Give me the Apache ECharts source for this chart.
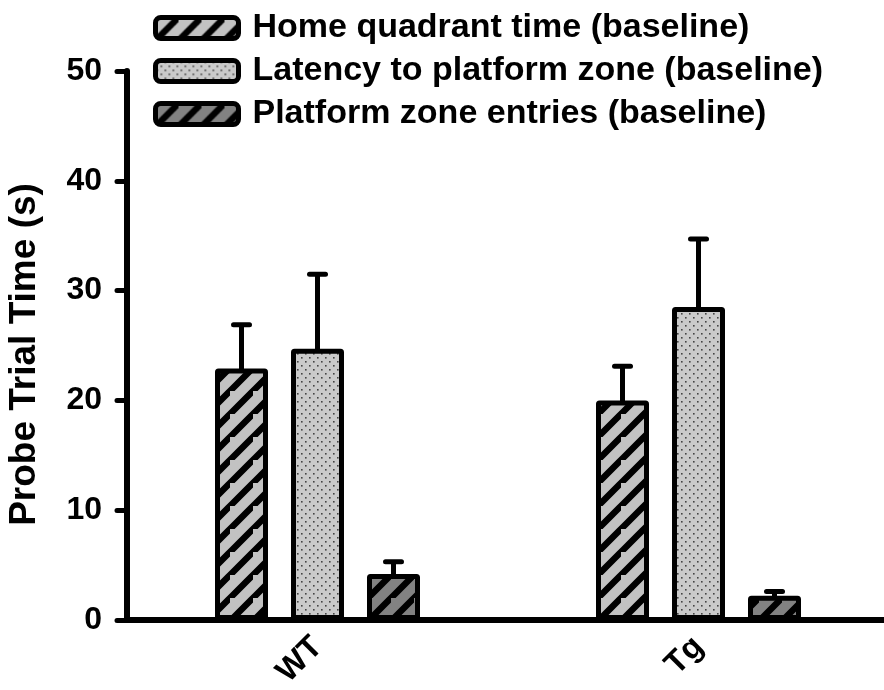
<!DOCTYPE html>
<html>
<head>
<meta charset="utf-8">
<script src="https://cdn.jsdelivr.net/npm/echarts@6/dist/echarts.min.js"></script>
<style>
  html, body { margin: 0; padding: 0; background: #fff; }
  #main { width: 884px; height: 690px; }
</style>
</head>
<body>
<div id="main"></div>
<script>
  var categories = ['WT', 'Tg'];
  var seriesNames = ['Home quadrant time (baseline)', 'Latency to platform zone (baseline)', 'Platform zone entries (baseline)'];
  var homeQuadrant = [22.9, 20.0];
  var homeQuadrantErr = [4.0, 3.1];
  var latency = [24.7, 28.5];
  var latencyErr = [6.8, 6.2];
  var entries = [4.2, 2.2];
  var entriesErr = [1.1, 0.4];
  var yTicks = [0, 10, 20, 30, 40, 50];

  var font = 'Liberation Sans, Arial, sans-serif';

  // fill patterns
  function hatch(bg) {
    var s = 23;
    var c = document.createElement('canvas');
    c.width = s; c.height = s;
    var g = c.getContext('2d');
    g.fillStyle = bg;
    g.fillRect(0, 0, s, s);
    g.strokeStyle = '#000';
    g.lineWidth = 6.5;
    g.beginPath();
    g.moveTo(-s, s * 2); g.lineTo(s * 2, -s);
    g.moveTo(-s * 2, s); g.lineTo(s, -s * 2);
    g.moveTo(0, s * 2); g.lineTo(s * 2, 0);
    g.stroke();
    return { image: c, repeat: 'repeat' };
  }
  function dots() {
    var s = 8;
    var c = document.createElement('canvas');
    c.width = s; c.height = s;
    var g = c.getContext('2d');
    g.fillStyle = '#cacaca';
    g.fillRect(0, 0, s, s);
    g.fillStyle = '#444';
    g.fillRect(1, 1, 1.6, 1.6);
    g.fillRect(5, 5, 1.6, 1.6);
    return { image: c, repeat: 'repeat' };
  }

  var fills = [hatch('#c2c2c2'), dots(), hatch('#828282')];
  var means = [homeQuadrant, latency, entries];
  var errs = [homeQuadrantErr, latencyErr, entriesErr];

  var barW = 53, step = 76;
  var barGap = step / barW - 1;
  var offsets = [-step, 0, step];

  var series = [];
  means.forEach(function (m, k) {
    series.push({
      name: seriesNames[k],
      type: 'bar',
      barWidth: barW,
      barGap: (barGap * 100) + '%',
      data: m,
      z: 3,
      itemStyle: { color: fills[k], borderColor: '#000', borderWidth: 5, borderRadius: 1 }
    });
  });
  means.forEach(function (m, k) {
    series.push({
      type: 'custom',
      z: 4,
      data: m.map(function (v, i) { return [i, v, errs[k][i]]; }),
      encode: { x: 0, y: 1 },
      renderItem: function (params, api) {
        var i = api.value(0), v = api.value(1), e = api.value(2);
        var p0 = api.coord([i, v]);
        var p1 = api.coord([i, v + e]);
        var cx = p0[0] + offsets[k];
        return {
          type: 'group',
          children: [
            { type: 'line', shape: { x1: cx, y1: p0[1] + 2, x2: cx, y2: p1[1] }, style: { stroke: '#000', lineWidth: 5 } },
            { type: 'line', shape: { x1: cx - 8, y1: p1[1], x2: cx + 8, y2: p1[1] }, style: { stroke: '#000', lineWidth: 5, lineCap: 'round' } }
          ]
        };
      }
    });
  });

  var legendTops = [11, 54, 97];
  var legends = seriesNames.map(function (n, k) {
    return {
      data: [n],
      left: 153,
      top: legendTops[k],
      padding: 0,
      itemWidth: 83,
      itemHeight: 21,
      selectedMode: false,
      itemStyle: { borderColor: '#000', borderWidth: 5 },
      textStyle: { fontFamily: font, fontWeight: 'bold', fontSize: 34, color: '#000', padding: [0, 0, 0, 9] }
    };
  });

  var myChart = echarts.init(document.getElementById('main'));
  var option = {
    animation: false,
    backgroundColor: '#fff',
    legend: legends,
    grid: { left: 127, top: 71, width: 762, height: 549, outerBoundsMode: 'none' },
    xAxis: {
      type: 'category',
      data: categories,
      axisLine: { lineStyle: { color: '#000', width: 6 } },
      axisTick: { alignWithLabel: true, length: 12, lineStyle: { color: '#000', width: 5, cap: 'round' } },
      axisLabel: { rotate: 45, margin: 22, color: '#000', fontFamily: font, fontWeight: 'bold', fontSize: 32 }
    },
    yAxis: {
      type: 'value',
      min: yTicks[0],
      max: yTicks[yTicks.length - 1],
      interval: 10,
      name: 'Probe Trial Time (s)',
      nameLocation: 'middle',
      nameGap: 84,
      nameTextStyle: { fontFamily: font, fontWeight: 'bold', fontSize: 37, color: '#000', padding: [0, 18, 0, 0] },
      splitLine: { show: false },
      axisLine: { show: true, lineStyle: { color: '#000', width: 6, cap: 'round' } },
      axisTick: { show: true, length: 10, lineStyle: { color: '#000', width: 5, cap: 'round' } },
      axisLabel: { margin: 25, color: '#000', fontFamily: font, fontWeight: 'bold', fontSize: 32 }
    },
    series: series
  };
  myChart.setOption(option);
</script>
</body>
</html>
